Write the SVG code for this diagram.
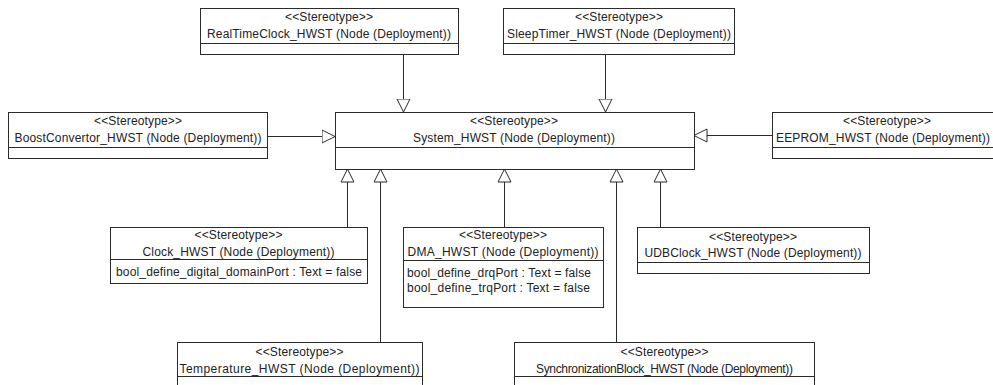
<svg xmlns="http://www.w3.org/2000/svg" width="993" height="385" viewBox="0 0 993 385">
<style>
.box{fill:#fff;stroke:#2b2b2b;stroke-width:1}
.div{stroke:#2b2b2b;stroke-width:1}
text{font-family:"Liberation Sans",Arial,sans-serif;font-size:12px;fill:#222}
.c{text-anchor:middle}
.edge{stroke:#2b2b2b;stroke-width:1;fill:none;marker-end:url(#gen)}
</style>
<defs>
<marker id="gen" markerUnits="userSpaceOnUse" markerWidth="16" markerHeight="16" refX="13.5" refY="7" orient="auto" viewBox="0 0 16 14">
<path d="M0.5,0.5 L13.5,7 L0.5,13.5 Z" fill="#fff" stroke="#2b2b2b" stroke-width="1"/>
</marker>
</defs>
<rect width="993" height="385" fill="#fff"/>
<g id="connectors">
<line class="edge" x1="403.5" y1="54" x2="403.5" y2="112"/>
<line class="edge" x1="605.5" y1="54" x2="605.5" y2="112"/>
<line class="edge" x1="267" y1="136.5" x2="335" y2="136.5"/>
<line class="edge" x1="772" y1="135.5" x2="694" y2="135.5"/>
<line class="edge" x1="347.5" y1="227" x2="347.5" y2="169"/>
<line class="edge" x1="380.5" y1="342" x2="380.5" y2="169"/>
<line class="edge" x1="504.5" y1="227" x2="504.5" y2="169"/>
<line class="edge" x1="616.5" y1="342" x2="616.5" y2="169"/>
<line class="edge" x1="660.5" y1="227" x2="660.5" y2="169"/>
</g>
<g id="RealTimeClock">
<rect class="box" x="200.5" y="8.5" width="258" height="46"/>
<line class="div" x1="200.5" y1="43.5" x2="458.5" y2="43.5"/>
<text class="c" x="329" y="21" textLength="88">&lt;&lt;Stereotype&gt;&gt;</text>
<text class="c" x="329" y="38" textLength="244">RealTimeClock_HWST (Node (Deployment))</text>
</g>
<g id="SleepTimer">
<rect class="box" x="503.5" y="8.5" width="231" height="46"/>
<line class="div" x1="503.5" y1="43.5" x2="734.5" y2="43.5"/>
<text class="c" x="619" y="21" textLength="88">&lt;&lt;Stereotype&gt;&gt;</text>
<text class="c" x="619" y="38" textLength="224">SleepTimer_HWST (Node (Deployment))</text>
</g>
<g id="BoostConvertor">
<rect class="box" x="8.5" y="112.5" width="259" height="46"/>
<line class="div" x1="8.5" y1="147.5" x2="267.5" y2="147.5"/>
<text class="c" x="138" y="125" textLength="88">&lt;&lt;Stereotype&gt;&gt;</text>
<text class="c" x="138" y="142" textLength="247">BoostConvertor_HWST (Node (Deployment))</text>
</g>
<g id="System">
<rect class="box" x="335.5" y="112.5" width="359" height="57"/>
<line class="div" x1="335.5" y1="147.5" x2="694.5" y2="147.5"/>
<text class="c" x="514" y="125" textLength="88">&lt;&lt;Stereotype&gt;&gt;</text>
<text class="c" x="514" y="142" textLength="202">System_HWST (Node (Deployment))</text>
</g>
<g id="EEPROM">
<rect class="box" x="772.5" y="112.5" width="230" height="46"/>
<line class="div" x1="772.5" y1="147.5" x2="1002.5" y2="147.5"/>
<text class="c" x="887" y="125" textLength="88">&lt;&lt;Stereotype&gt;&gt;</text>
<text class="c" x="883" y="142" textLength="214">EEPROM_HWST (Node (Deployment))</text>
</g>
<g id="Clock">
<rect class="box" x="110.5" y="227.5" width="257" height="56"/>
<line class="div" x1="110.5" y1="259.5" x2="367.5" y2="259.5"/>
<text class="c" x="238.5" y="239" textLength="88">&lt;&lt;Stereotype&gt;&gt;</text>
<text class="c" x="238.5" y="256" textLength="192">Clock_HWST (Node (Deployment))</text>
<text x="116" y="276" textLength="246">bool_define_digital_domainPort : Text = false</text>
</g>
<g id="DMA">
<rect class="box" x="403.5" y="227.5" width="200" height="80"/>
<line class="div" x1="403.5" y1="260.5" x2="603.5" y2="260.5"/>
<text class="c" x="503" y="239" textLength="88">&lt;&lt;Stereotype&gt;&gt;</text>
<text class="c" x="503" y="256" textLength="191">DMA_HWST (Node (Deployment))</text>
<text x="407" y="277" textLength="184">bool_define_drqPort : Text = false</text>
<text x="407" y="292" textLength="183">bool_define_trqPort : Text = false</text>
</g>
<g id="UDBClock">
<rect class="box" x="637.5" y="227.5" width="232" height="46"/>
<line class="div" x1="637.5" y1="262.5" x2="869.5" y2="262.5"/>
<text class="c" x="753" y="241" textLength="88">&lt;&lt;Stereotype&gt;&gt;</text>
<text class="c" x="753" y="257" textLength="217">UDBClock_HWST (Node (Deployment))</text>
</g>
<g id="Temperature">
<rect class="box" x="177.5" y="342.5" width="245" height="60"/>
<line class="div" x1="177.5" y1="376.5" x2="422.5" y2="376.5"/>
<text class="c" x="299.5" y="356" textLength="88">&lt;&lt;Stereotype&gt;&gt;</text>
<text class="c" x="299.5" y="373" textLength="240">Temperature_HWST (Node (Deployment))</text>
</g>
<g id="SynchronizationBlock">
<rect class="box" x="514.5" y="342.5" width="300" height="60"/>
<line class="div" x1="514.5" y1="376.5" x2="814.5" y2="376.5"/>
<text class="c" x="664.5" y="356" textLength="88">&lt;&lt;Stereotype&gt;&gt;</text>
<text class="c" x="664.5" y="373" textLength="257">SynchronizationBlock_HWST (Node (Deployment))</text>
</g>
</svg>
